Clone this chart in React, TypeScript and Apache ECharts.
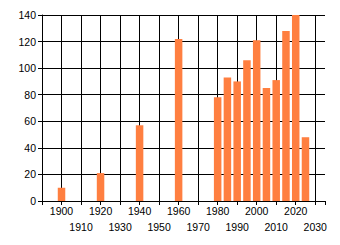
import React, { useEffect, useRef } from "react";
import * as echarts from "echarts";

const years = [1900, 1920, 1940, 1960, 1980, 1985, 1990, 1995, 2000, 2005, 2010, 2015, 2020, 2025];
const values = [10, 21, 57, 122, 78, 93, 90, 106, 121, 85, 91, 128, 140, 48];
const xLabelsRow1 = [1900, 1920, 1940, 1960, 1980, 2000, 2020];
const xLabelsRow2 = [1910, 1930, 1950, 1970, 1990, 2010, 2030];

export default function App() {
  const ref = useRef<HTMLDivElement>(null);
  useEffect(() => {
    if (!ref.current) return;
    const chart = echarts.init(ref.current, undefined, { renderer: "svg" });
    const font = "'Liberation Sans', Arial, sans-serif";
    const labelBase = {
      showMinLabel: true,
      showMaxLabel: true,
      hideOverlap: false,
      color: "#000",
      fontFamily: font,
      fontSize: 10.5,
      lineHeight: 16,
      margin: 2,
      formatter: (v: number) => String(v),
    };
    chart.setOption({
      animation: false,
      backgroundColor: "#ffffff",
      grid: { left: 42, right: 15, top: 15, bottom: 44, outerBoundsMode: "none", containLabel: false },
      xAxis: [
        {
          type: "value",
          min: 1890,
          max: 2035,
          interval: 10,
          axisLine: { show: true, lineStyle: { color: "#000", width: 1 } },
          axisTick: { show: true, length: 4, lineStyle: { color: "#000", width: 1 } },
          axisLabel: { ...labelBase, customValues: xLabelsRow1 },
          splitLine: { show: true, showMaxLine: false, lineStyle: { color: "#000", width: 1 } },
        },
        {
          type: "value",
          position: "bottom",
          offset: 16,
          min: 1890,
          max: 2035,
          interval: 10,
          axisLine: { show: false },
          axisTick: { show: false },
          axisLabel: { ...labelBase, customValues: xLabelsRow2 },
          splitLine: { show: false },
        },
      ],
      yAxis: {
        type: "value",
        min: 0,
        max: 140,
        interval: 20,
        axisLine: { show: true, lineStyle: { color: "#000", width: 1 } },
        axisTick: { show: true, length: 4, lineStyle: { color: "#000" } },
        axisLabel: { color: "#000", fontFamily: font, fontSize: 10.5, margin: 6 },
        splitLine: { show: true, lineStyle: { color: "#000", width: 1 } },
      },
      series: [
        {
          type: "bar",
          xAxisIndex: 0,
          data: years.map((y, i) => [y, values[i]]),
          barWidth: 7.5,
          itemStyle: { color: "#FF7F40" },
        },
      ],
    });
    return () => chart.dispose();
  }, []);
  return <div ref={ref} style={{ position: "fixed", left: 0, top: 0, width: 340, height: 245 }} />;
}
